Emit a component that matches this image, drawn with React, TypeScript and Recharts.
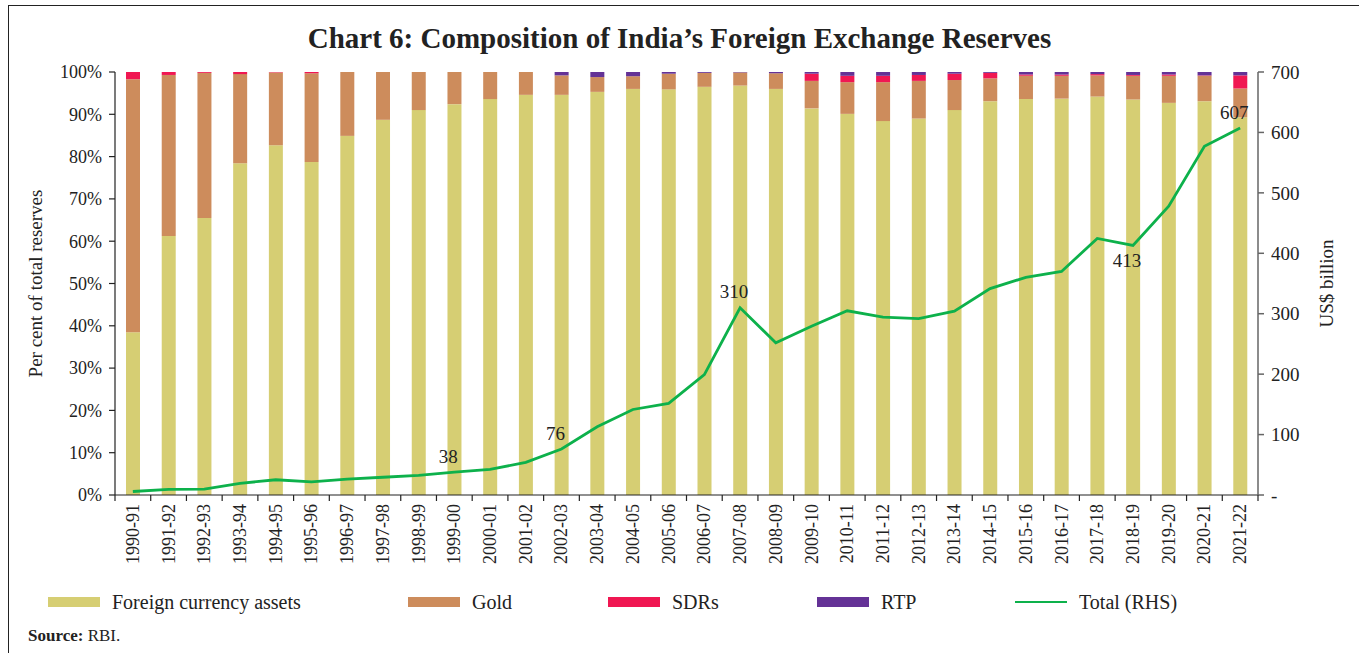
import React from "react";
import { ComposedChart, Bar, Line, XAxis, YAxis, LabelList } from "recharts";

const categories = [
  "1990-91","1991-92","1992-93","1993-94","1994-95","1995-96","1996-97","1997-98",
  "1998-99","1999-00","2000-01","2001-02","2002-03","2003-04","2004-05","2005-06",
  "2006-07","2007-08","2008-09","2009-10","2010-11","2011-12","2012-13","2013-14",
  "2014-15","2015-16","2016-17","2017-18","2018-19","2019-20","2020-21","2021-22",
];
const fcaShare = [38.5,61.2,65.5,78.4,82.7,78.7,84.9,88.7,91.0,92.4,93.6,94.6,94.6,95.3,96.0,95.9,96.5,96.8,96.0,91.4,90.1,88.4,89.0,91.0,93.1,93.6,93.7,94.2,93.5,92.7,93.1,89.3];
const goldShare = [59.8,38.1,34.3,21.1,17.2,21.0,15.1,11.3,9.0,7.6,6.4,5.4,4.6,3.5,3.0,3.7,3.3,3.1,3.7,6.5,7.5,9.2,8.9,7.1,5.4,5.5,5.4,5.0,5.6,6.4,6.0,6.8];
const sdrShare = [1.7,0.7,0.2,0.5,0.1,0.3,0,0,0,0,0,0,0,0,0,0,0,0,0,1.7,1.5,1.5,1.4,1.5,1.3,0.3,0.3,0.3,0.2,0.3,0.1,3.1];
const rtpShare = [0,0,0,0,0,0,0,0,0,0,0,0,0.8,1.2,1.0,0.4,0.2,0.1,0.3,0.4,0.9,0.9,0.7,0.4,0.2,0.6,0.6,0.5,0.7,0.6,0.8,0.8];
const totalReserves = [5.8,9.2,9.8,19.3,25.2,21.7,26.4,29.4,32.5,38.0,42.3,54.1,76.1,113.0,141.5,151.6,199.2,309.7,252.0,279.1,304.8,294.4,292.0,304.2,341.6,360.2,370.0,424.5,412.9,477.8,577.0,607.3];
const labelledYears = ["1999-00","2002-03","2007-08","2018-19","2021-22"];
const labelBelowYears = ["2018-19"];
const leftTicks = [0,10,20,30,40,50,60,70,80,90,100];
const rightTicks = [0,100,200,300,400,500,600,700];

const COLORS = {
  fca: "#D6CE73",
  gold: "#CD8C5C",
  sdr: "#F01752",
  rtp: "#643296",
  total: "#0DB14B",
};

const data = categories.map((c, i) => ({
  year: c,
  fca: fcaShare[i],
  gold: goldShare[i],
  sdr: sdrShare[i],
  rtp: rtpShare[i],
  total: totalReserves[i],
  label: labelledYears.includes(c) ? String(Math.round(totalReserves[i])) : "",
}));

const FONT = "'Liberation Serif', serif";
const W = 1359;
const H = 653;
const PLOT_LEFT = 115;
const PLOT_RIGHT = 1258;
const PLOT_TOP = 72;
const PLOT_BOTTOM = 495;
const STEP = (PLOT_RIGHT - PLOT_LEFT) / categories.length;

const XTick = (props: any) => {
  const { x, payload, index } = props;
  const bx = x - STEP / 2;
  return (
    <g>
      <line x1={bx} y1={PLOT_BOTTOM} x2={bx} y2={PLOT_BOTTOM + 6} stroke="#222" strokeWidth={1.2} />
      {index === categories.length - 1 && (
        <line x1={x + STEP / 2} y1={PLOT_BOTTOM} x2={x + STEP / 2} y2={PLOT_BOTTOM + 6} stroke="#222" strokeWidth={1.2} />
      )}
      <text
        x={x}
        y={PLOT_BOTTOM + 9}
        transform={`rotate(-90 ${x} ${PLOT_BOTTOM + 9})`}
        textAnchor="end"
        dominantBaseline="central"
        fontFamily={FONT}
        fontSize={18}
        fill="#222"
      >
        {payload.value}
      </text>
    </g>
  );
};

const TotalLabel = (props: any) => {
  const { x, y, value, index } = props;
  if (!value) return null;
  const below = labelBelowYears.includes(categories[index]);
  return (
    <text
      x={x - 6}
      y={below ? y + 15 : y - 16}
      textAnchor="middle"
      dominantBaseline="central"
      fontFamily={FONT}
      fontSize={19}
      fill="#222"
    >
      {value}
    </text>
  );
};

const legendItems = [
  { label: "Foreign currency assets", color: COLORS.fca, x: 48, type: "rect" },
  { label: "Gold", color: COLORS.gold, x: 408, type: "rect" },
  { label: "SDRs", color: COLORS.sdr, x: 608, type: "rect" },
  { label: "RTP", color: COLORS.rtp, x: 817, type: "rect" },
  { label: "Total (RHS)", color: COLORS.total, x: 1015, type: "line" },
];

export default function App() {
  return (
    <div style={{ position: "absolute", left: 0, top: 0, width: W, height: H, background: "#fff", overflow: "hidden", fontFamily: FONT }}>
      <div style={{ position: "absolute", left: 8, top: 5, width: W + 20, height: H + 20, borderLeft: "1.5px solid #222", borderTop: "1.5px solid #222" }} />
      <div style={{ position: "absolute", left: 0, width: W, top: 20, textAlign: "center", fontSize: 29, fontWeight: "bold", color: "#222", lineHeight: "36px" }}>
        Chart 6: Composition of India’s Foreign Exchange Reserves
      </div>
      <div style={{ position: "absolute", left: 0, top: 0 }}>
        <ComposedChart
          width={W}
          height={H}
          data={data}
          margin={{ top: PLOT_TOP, right: W - PLOT_RIGHT - 60, bottom: 0, left: 0 }}
          barCategoryGap={0}
        >
          <XAxis
            dataKey="year"
            height={H - PLOT_BOTTOM}
            interval={0}
            tickLine={false}
            axisLine={{ stroke: "#222", strokeWidth: 1.2 }}
            tick={<XTick />}
          />
          <YAxis
            yAxisId="left"
            width={PLOT_LEFT}
            domain={[0, 100]}
            ticks={leftTicks}
            tickFormatter={(v: number) => `${v}%`}
            tickSize={6}
            tickMargin={7}
            axisLine={{ stroke: "#222", strokeWidth: 1.2 }}
            tickLine={{ stroke: "#222", strokeWidth: 1.2 }}
            tick={{ fontFamily: FONT, fontSize: 18, fill: "#222" }}
            label={{ value: "Per cent of total reserves", angle: -90, position: "insideLeft", dx: 30, style: { fontFamily: FONT, fontSize: 19, fill: "#222", textAnchor: "middle" } }}
          />
          <YAxis
            yAxisId="right"
            orientation="right"
            width={60}
            domain={[0, 700]}
            ticks={rightTicks}
            tickFormatter={(v: number) => (v === 0 ? "-" : String(v))}
            tickSize={6}
            tickMargin={7}
            axisLine={{ stroke: "#666", strokeWidth: 1.5 }}
            tickLine={{ stroke: "#666", strokeWidth: 1.5 }}
            tick={{ fontFamily: FONT, fontSize: 19, fill: "#222", textAnchor: "start" }}
            label={{ value: "US$ billion", angle: -90, position: "insideRight", dx: 13, style: { fontFamily: FONT, fontSize: 19, fill: "#222", textAnchor: "middle" } }}
          />
          <Bar yAxisId="left" dataKey="fca" stackId="a" fill={COLORS.fca} barSize={14} isAnimationActive={false} />
          <Bar yAxisId="left" dataKey="gold" stackId="a" fill={COLORS.gold} barSize={14} isAnimationActive={false} />
          <Bar yAxisId="left" dataKey="sdr" stackId="a" fill={COLORS.sdr} barSize={14} isAnimationActive={false} />
          <Bar yAxisId="left" dataKey="rtp" stackId="a" fill={COLORS.rtp} barSize={14} isAnimationActive={false} />
          <Line
            yAxisId="right"
            dataKey="total"
            stroke={COLORS.total}
            strokeWidth={2.8}
            dot={false}
            isAnimationActive={false}
          >
            <LabelList dataKey="label" content={<TotalLabel />} />
          </Line>
        </ComposedChart>
      </div>
      {legendItems.map((it) => (
        <div key={it.label} style={{ position: "absolute", left: it.x, top: 590, height: 24, display: "flex", alignItems: "center" }}>
          {it.type === "rect" ? (
            <div style={{ width: 52, height: 10, background: it.color }} />
          ) : (
            <div style={{ width: 52, height: 2.5, background: it.color }} />
          )}
          <span style={{ marginLeft: 12, fontSize: 20, color: "#222", whiteSpace: "nowrap" }}>{it.label}</span>
        </div>
      ))}
      <div style={{ position: "absolute", left: 28, top: 626, fontSize: 17, color: "#222", whiteSpace: "nowrap" }}>
        <b>Source:</b> RBI.
      </div>
    </div>
  );
}
